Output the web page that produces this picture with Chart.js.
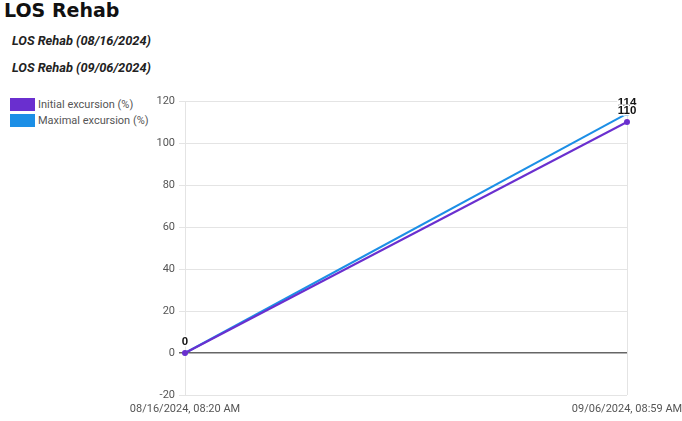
<!DOCTYPE html>
<html>
<head>
<meta charset="utf-8">
<script src="https://cdn.jsdelivr.net/npm/chart.js@4"></script>
<style>
  body { margin: 0; width: 682px; height: 421px; overflow: hidden; background: #fff; font-family: Roboto, Arial, sans-serif; position: relative; }
  h1 { position: absolute; left: 4px; top: -1px; margin: 0; font: bold 19px "DejaVu Sans", "Noto Sans", sans-serif; color: #111; }
  .sub { position: absolute; left: 12px; margin: 0; font: italic bold 12.8px Roboto, Arial, sans-serif; color: #222; }
  #legend { position: absolute; left: 10px; top: 96px; font-size: 11px; color: #555; }
  .item { display: flex; align-items: center; height: 16.5px; }
  .box { width: 25px; height: 13px; margin-right: 3px; }
  #wrap { position: absolute; left: 0; top: 90px; width: 682px; height: 331px; }
</style>
</head>
<body>
<h1>LOS Rehab</h1>
<p class="sub" style="top:33px">LOS Rehab (08/16/2024)</p>
<p class="sub" style="top:60px">LOS Rehab (09/06/2024)</p>
<div id="legend"></div>
<div id="wrap"><canvas id="chart"></canvas></div>
<script>
/*=================================
      data
=================================*/
var labels = ["08/16/2024, 08:20 AM", "09/06/2024, 08:59 AM"];
var initialExcursion = [0, 110];
var maximalExcursion = [0, 114];
var seriesNames = ["Initial excursion (%)", "Maximal excursion (%)"];
var colors = ["#6a2fcf", "#1c8fe6"];

/*=================================
      legend
=================================*/
var legend = document.querySelector("#legend");
seriesNames.forEach((name, i) => {
  let item = document.createElement("div");
  item.classList.add("item");
  item.innerHTML = '<span class="box" style="background:' + colors[i] + '"></span>' + name;
  legend.appendChild(item);
});

/*=================================
      value labels on points
=================================*/
var pointLabels = {
  id: "pointLabels",
  afterDatasetsDraw(chart) {
    const ctx = chart.ctx;
    ctx.save();
    ctx.font = "bold 11.5px Arial, sans-serif";
    ctx.textAlign = "center";
    ctx.textBaseline = "middle";
    ctx.lineJoin = "round";
    [1, 0].forEach((d) => {
      const meta = chart.getDatasetMeta(d);
      meta.data.forEach((pt, i) => {
        const txt = String(chart.data.datasets[d].data[i]);
        ctx.lineWidth = 3;
        ctx.strokeStyle = "#fff";
        ctx.strokeText(txt, pt.x, pt.y - 11);
        ctx.fillStyle = "#111";
        ctx.fillText(txt, pt.x, pt.y - 11);
      });
    });
    ctx.restore();
  },
};

new Chart("chart", {
  type: "line",
  plugins: [pointLabels],
  data: {
    labels: labels,
    datasets: [
      {
        label: seriesNames[0],
        data: initialExcursion,
        borderColor: colors[0],
        backgroundColor: colors[0],
        borderWidth: 2,
        pointRadius: 2,
        order: 0,
      },
      {
        label: seriesNames[1],
        data: maximalExcursion,
        borderColor: colors[1],
        backgroundColor: colors[1],
        borderWidth: 2,
        pointRadius: 1.5,
        order: 1,
      },
    ],
  },
  options: {
    responsive: true,
    maintainAspectRatio: false,
    animation: false,
    layout: { padding: { top: 11, right: 55, left: 0, bottom: 0 } },
    plugins: { legend: { display: false }, tooltip: { enabled: false } },
    scales: {
      x: {
        offset: false,
        afterFit: (s) => { s.height = 26; s.paddingLeft = 0; s.paddingRight = 0; },
        grid: { color: "#e4e4e4", drawTicks: false },
        border: { display: false },
        ticks: { color: "#555", font: { size: 11, family: "Roboto, Arial" }, padding: 8, maxRotation: 0 },
      },
      y: {
        min: -20,
        max: 120,
        afterFit: (s) => { s.width = 185; },
        ticks: { stepSize: 20, color: "#555", font: { size: 11, family: "Roboto, Arial" }, padding: 4 },
        border: { display: false },
        grid: {
          tickLength: 6,
          color: (c) => (c.tick && c.tick.value === 0 ? "#666" : "#e4e4e4"),
          lineWidth: (c) => (c.tick && c.tick.value === 0 ? 1.5 : 1),
        },
      },
    },
  },
});
</script>
</body>
</html>
